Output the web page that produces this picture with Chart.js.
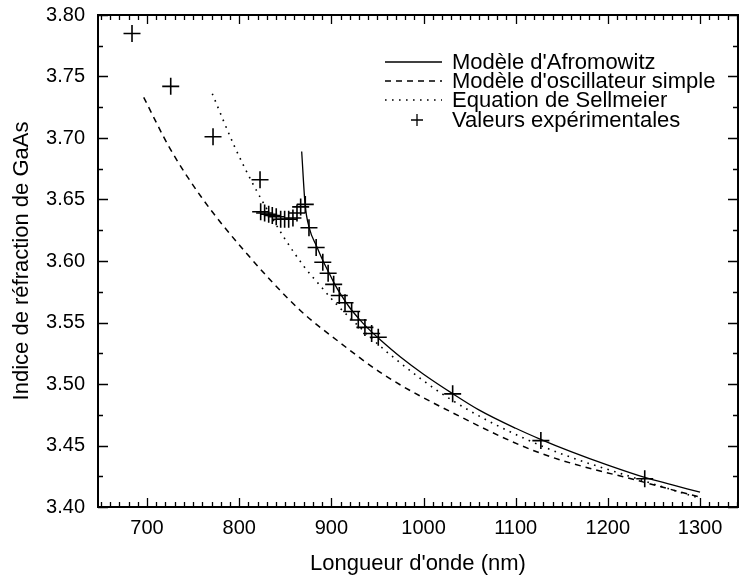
<!DOCTYPE html>
<html>
<head>
<meta charset="utf-8">
<script src="https://cdn.jsdelivr.net/npm/chart.js@4/dist/chart.umd.min.js"></script>
<style>
html, body { margin: 0; padding: 0; background: #fff; }
#wrap { width: 740px; height: 577px; position: relative; }
</style>
</head>
<body>
<div id="wrap"><canvas id="refrac"></canvas></div>
<script>
// Modèle d'Afromowitz (trait plein)
const afroX = [867.8, 871.5, 876, 884, 891, 897, 903, 910, 920, 930, 940, 953, 975, 1000, 1032, 1060, 1100, 1127, 1160, 1200, 1240, 1270, 1300];
const afroY = [3.689, 3.646, 3.627, 3.612, 3.600, 3.591, 3.582, 3.573, 3.562, 3.553, 3.545, 3.536, 3.522, 3.508, 3.492, 3.479, 3.464, 3.455, 3.445, 3.434, 3.424, 3.418, 3.412];

// Modèle d'oscillateur simple (tirets)
const oscX = [696.4, 724.5, 758.9, 805.9, 866, 905.3, 958, 1030.5, 1126, 1240, 1300];
const oscY = [3.733, 3.692, 3.652, 3.608, 3.560, 3.536, 3.507, 3.477, 3.444, 3.420, 3.408];

// Equation de Sellmeier (pointillés)
const sellX = [770.8, 795, 816.8, 847.9, 870.9, 885.5, 905.3, 931, 963.5, 1030.5, 1127, 1240, 1300];
const sellY = [3.736, 3.693, 3.660, 3.620, 3.595, 3.582, 3.565, 3.546, 3.524, 3.487, 3.450, 3.421, 3.407];

// Valeurs expérimentales
const expX = [683.7, 725.7, 771.6, 822.6, 823.3, 827.6, 832, 835.9, 840.2, 845, 849.3, 853.7, 858.3, 862.7, 866.7, 871.7,
              875.7, 883.5, 890.7, 896.5, 902.5, 908.6, 914.8, 922, 929.2, 936.4, 943.7, 950.9, 1031.6, 1127.3, 1240];
const expY = [3.785, 3.742, 3.701, 3.666, 3.640, 3.639, 3.638, 3.637, 3.636, 3.634, 3.634, 3.634, 3.635, 3.639, 3.644, 3.646,
              3.627, 3.611, 3.599, 3.590, 3.581, 3.572, 3.566, 3.559, 3.552, 3.546, 3.541, 3.538, 3.492, 3.454, 3.423];

const xTicks = [700, 800, 900, 1000, 1100, 1200, 1300];
const yTicks = [3.40, 3.45, 3.50, 3.55, 3.60, 3.65, 3.70, 3.75, 3.80];
const legendLabels = ["Modèle d'Afromowitz", "Modèle d'oscillateur simple", "Equation de Sellmeier", "Valeurs expérimentales"];

const pts = (xs, ys) => xs.map((v, i) => ({ x: v, y: ys[i] }));

Chart.defaults.font.family = "'Liberation Sans', Arial, sans-serif";
Chart.defaults.color = '#000';

// cadre + graduations intérieures + légende dans le graphe
const cadre = {
    id: 'cadre',
    afterDraw(chart) {
        const { ctx, chartArea: a, scales: { x, y } } = chart;
        ctx.save();
        ctx.strokeStyle = '#000';
        ctx.lineWidth = 2;
        ctx.strokeRect(a.left, a.top, a.right - a.left, a.bottom - a.top);

        ctx.lineWidth = 1.3;
        ctx.beginPath();
        for (let v = 650; v <= 1340; v += 10) {
            const px = Math.round(x.getPixelForValue(v)) + 0.5;
            const len = v % 100 === 0 ? 9 : 5;
            ctx.moveTo(px, a.bottom); ctx.lineTo(px, a.bottom - len);
            ctx.moveTo(px, a.top); ctx.lineTo(px, a.top + len);
        }
        for (let i = 0; i <= 16; i++) {
            const py = Math.round(y.getPixelForValue(3.40 + i * 0.025)) + 0.5;
            const len = i % 2 === 0 ? 10 : 5;
            ctx.moveTo(a.left, py); ctx.lineTo(a.left + len, py);
            ctx.moveTo(a.right, py); ctx.lineTo(a.right - len, py);
        }
        ctx.stroke();

        // légende
        const ds = chart.data.datasets;
        const rows = [62, 81, 100, 120];
        ctx.font = "22px 'Liberation Sans', Arial, sans-serif";
        ctx.fillStyle = '#000';
        ctx.textBaseline = 'alphabetic';
        rows.forEach((ry, i) => {
            if (i < 3) {
                ctx.lineWidth = ds[i].borderWidth;
                ctx.setLineDash(ds[i].borderDash || []);
                ctx.beginPath();
                ctx.moveTo(385, ry); ctx.lineTo(442, ry);
                ctx.stroke();
                ctx.setLineDash([]);
            } else {
                ctx.lineWidth = 1.3;
                ctx.beginPath();
                ctx.moveTo(411, ry); ctx.lineTo(423, ry);
                ctx.moveTo(417, ry - 6); ctx.lineTo(417, ry + 6);
                ctx.stroke();
            }
            ctx.fillText(legendLabels[i], 452, ry + 7);
        });
        ctx.restore();
    }
};

const refracChart = new Chart(document.getElementById('refrac'), {
    type: 'line',
    data: {
        datasets: [
            {
                label: legendLabels[0],
                data: pts(afroX, afroY),
                borderColor: '#000',
                borderWidth: 1.3,
                pointRadius: 0,
                cubicInterpolationMode: 'monotone'
            },
            {
                label: legendLabels[1],
                data: pts(oscX, oscY),
                borderColor: '#000',
                borderWidth: 1.5,
                borderDash: [6, 5],
                pointRadius: 0,
                cubicInterpolationMode: 'monotone'
            },
            {
                label: legendLabels[2],
                data: pts(sellX, sellY),
                borderColor: '#000',
                borderWidth: 1.6,
                borderDash: [1.6, 5.4],
                pointRadius: 0,
                cubicInterpolationMode: 'monotone'
            },
            {
                label: legendLabels[3],
                data: pts(expX, expY),
                showLine: false,
                pointStyle: 'cross',
                pointRadius: 8.5,
                pointBorderWidth: 1.6,
                pointBorderColor: '#000'
            }
        ]
    },
    options: {
        responsive: true,
        maintainAspectRatio: false,
        animation: false,
        layout: {
            autoPadding: false,
            padding: { left: 0, right: 2, top: 15, bottom: 0 }
        },
        plugins: {
            legend: { display: false },
            tooltip: { enabled: false }
        },
        scales: {
            x: {
                type: 'linear',
                min: 646.8,
                max: 1341.2,
                afterBuildTicks: s => { s.ticks = xTicks.map(v => ({ value: v })); },
                afterFit: s => { s.height = 70; s.paddingLeft = 0; s.paddingRight = 0; },
                grid: { display: false, drawTicks: false },
                border: { display: false },
                ticks: { font: { size: 20 }, padding: 9, maxRotation: 0, callback: v => String(v) },
                title: {
                    display: true,
                    text: "Longueur d'onde (nm)",
                    font: { size: 22 },
                    padding: { top: 0, bottom: 0 }
                }
            },
            y: {
                type: 'linear',
                min: 3.40,
                max: 3.80,
                afterBuildTicks: s => { s.ticks = yTicks.map(v => ({ value: v })); },
                afterFit: s => { s.width = 98; s.paddingTop = 0; s.paddingBottom = 0; },
                grid: { display: false, drawTicks: false },
                border: { display: false },
                ticks: { font: { size: 20 }, padding: 13, callback: v => v.toFixed(2) },
                title: {
                    display: true,
                    text: 'Indice de réfraction de GaAs',
                    font: { size: 22 },
                    padding: { top: 9, bottom: 0 }
                }
            }
        }
    },
    plugins: [cadre]
});
</script>
</body>
</html>
